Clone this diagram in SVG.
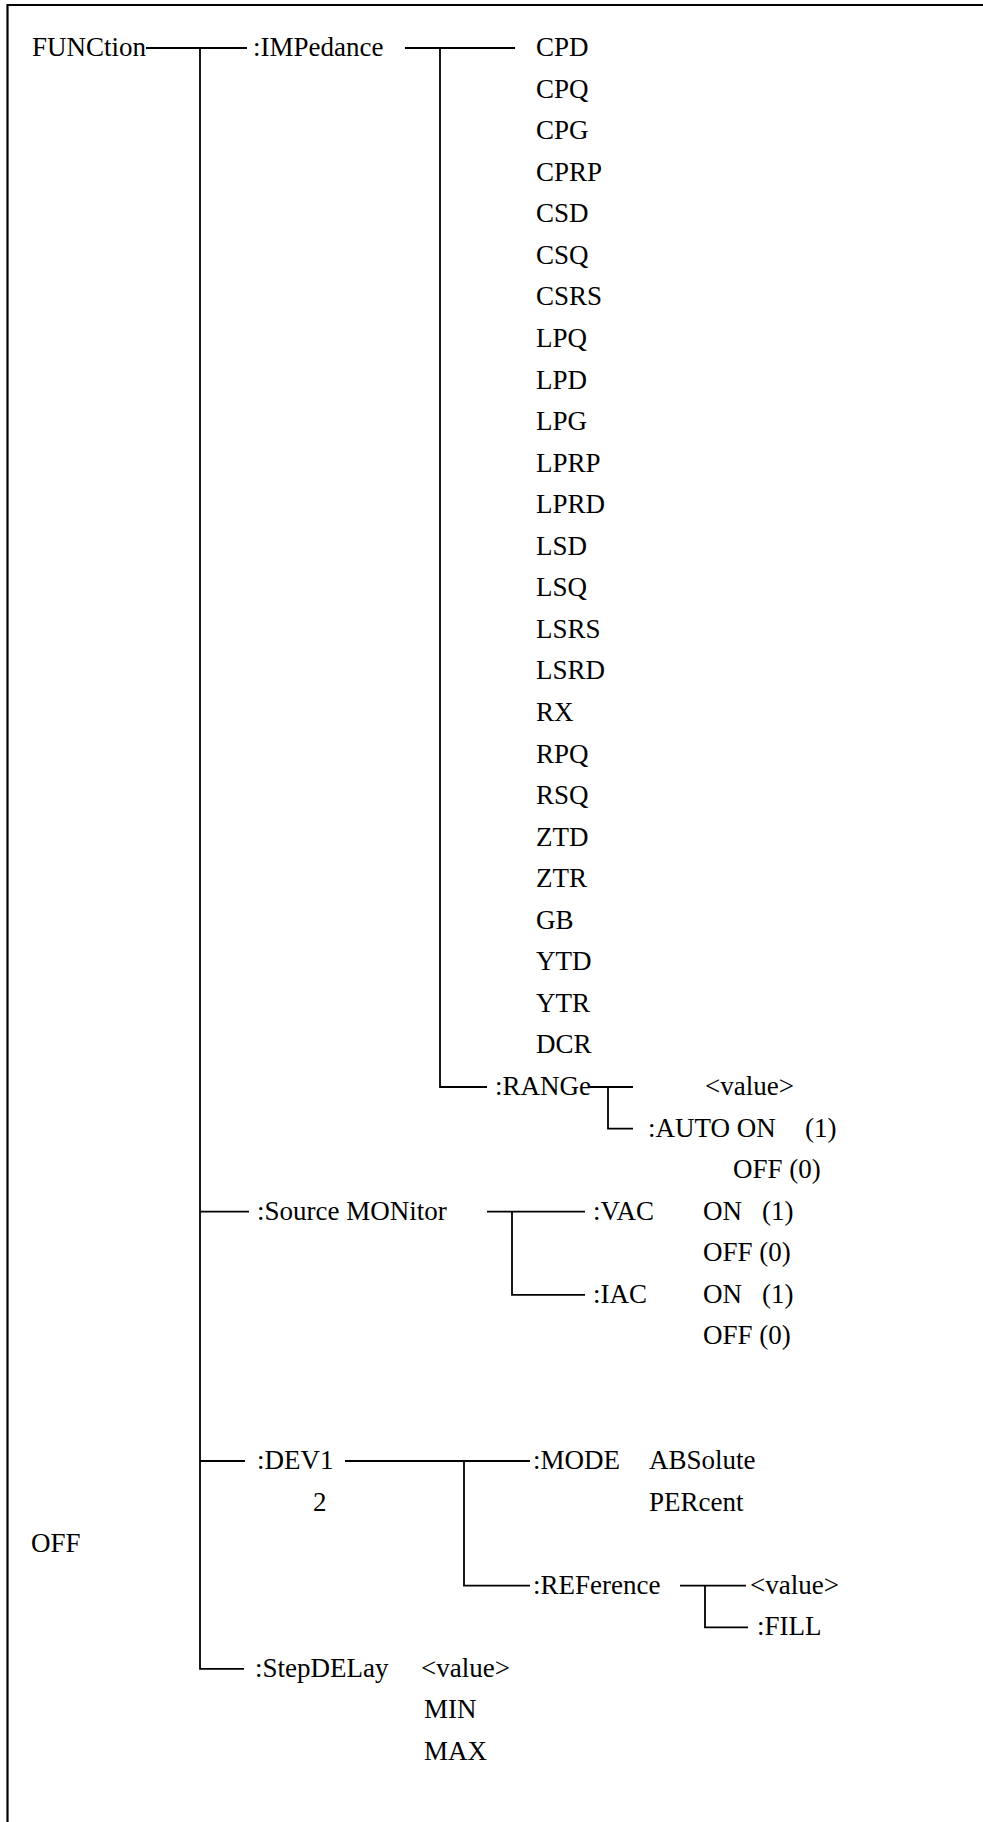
<svg xmlns="http://www.w3.org/2000/svg" width="983" height="1822" viewBox="0 0 983 1822">
<style>
text{font-family:"Liberation Serif","Times New Roman",serif;font-size:27px;fill:#000}
.c{stroke:#000;stroke-width:1.8;fill:none}
.frame{stroke:#000;stroke-width:2.2;fill:none}
</style>
<rect width="983" height="1822" fill="#fff"/>
<path class="frame" d="M7.5,1822 V5 H983"/>
<g id="connectors" class="c">
<path d="M146,48 H247"/>
<path d="M200,48 V1668.8 H244"/>
<path d="M200,1211.7 H249"/>
<path d="M200,1461 H245"/>
<path d="M405,48 H515"/>
<path d="M440,48 V1087 H487"/>
<path d="M590,1087 H633"/>
<path d="M608,1087 V1128.6 H633"/>
<path d="M487,1211.7 H585"/>
<path d="M512,1211.7 V1294.8 H585"/>
<path d="M345,1461 H530"/>
<path d="M464,1461 V1585.7 H530"/>
<path d="M680,1585.7 H746"/>
<path d="M705,1585.7 V1627.3 H748"/>
</g>
<g id="n-function"><text x="32" y="56">FUNCtion</text></g>
<g id="n-off-root"><text x="31" y="1552.2">OFF</text></g>
<g id="n-impedance"><text x="253" y="56">:IMPedance</text></g>
<g id="n-impedance-list">
<text x="536" y="56">CPD</text>
<text x="536" y="97.6">CPQ</text>
<text x="536" y="139.1">CPG</text>
<text x="536" y="180.7">CPRP</text>
<text x="536" y="222.2">CSD</text>
<text x="536" y="263.8">CSQ</text>
<text x="536" y="305.4">CSRS</text>
<text x="536" y="346.9">LPQ</text>
<text x="536" y="388.5">LPD</text>
<text x="536" y="430">LPG</text>
<text x="536" y="471.6">LPRP</text>
<text x="536" y="513.2">LPRD</text>
<text x="536" y="554.7">LSD</text>
<text x="536" y="596.3">LSQ</text>
<text x="536" y="637.8">LSRS</text>
<text x="536" y="679.4">LSRD</text>
<text x="536" y="721">RX</text>
<text x="536" y="762.5">RPQ</text>
<text x="536" y="804.1">RSQ</text>
<text x="536" y="845.6">ZTD</text>
<text x="536" y="887.2">ZTR</text>
<text x="536" y="928.8">GB</text>
<text x="536" y="970.3">YTD</text>
<text x="536" y="1011.9">YTR</text>
<text x="536" y="1053.4">DCR</text>
</g>
<g id="n-range"><text x="495" y="1095">:RANGe</text></g>
<g id="n-range-value"><text x="705" y="1095">&lt;value&gt;</text></g>
<g id="n-range-auto">
<text x="648" y="1136.6">:AUTO ON</text>
<text x="805" y="1136.6">(1)</text>
<text x="733" y="1178.1">OFF (0)</text>
</g>
<g id="n-source"><text x="257" y="1219.7">:Source MONitor</text></g>
<g id="n-vac">
<text x="593" y="1219.7">:VAC</text>
<text x="703" y="1219.7">ON</text>
<text x="762" y="1219.7">(1)</text>
<text x="703" y="1261.2">OFF (0)</text>
</g>
<g id="n-iac">
<text x="593" y="1302.8">:IAC</text>
<text x="703" y="1302.8">ON</text>
<text x="762" y="1302.8">(1)</text>
<text x="703" y="1344.4">OFF (0)</text>
</g>
<g id="n-dev"><text x="257" y="1469">:DEV1</text><text x="313" y="1510.6">2</text></g>
<g id="n-mode">
<text x="533" y="1469">:MODE</text>
<text x="649" y="1469">ABSolute</text>
<text x="649" y="1510.6">PERcent</text>
</g>
<g id="n-reference"><text x="533" y="1593.7">:REFerence</text></g>
<g id="n-ref-value"><text x="750" y="1593.7">&lt;value&gt;</text></g>
<g id="n-fill"><text x="757" y="1635.3">:FILL</text></g>
<g id="n-stepdelay">
<text x="255" y="1676.8">:StepDELay</text>
<text x="421" y="1676.8">&lt;value&gt;</text>
<text x="424" y="1718.4">MIN</text>
<text x="424" y="1760">MAX</text>
</g>
</svg>
